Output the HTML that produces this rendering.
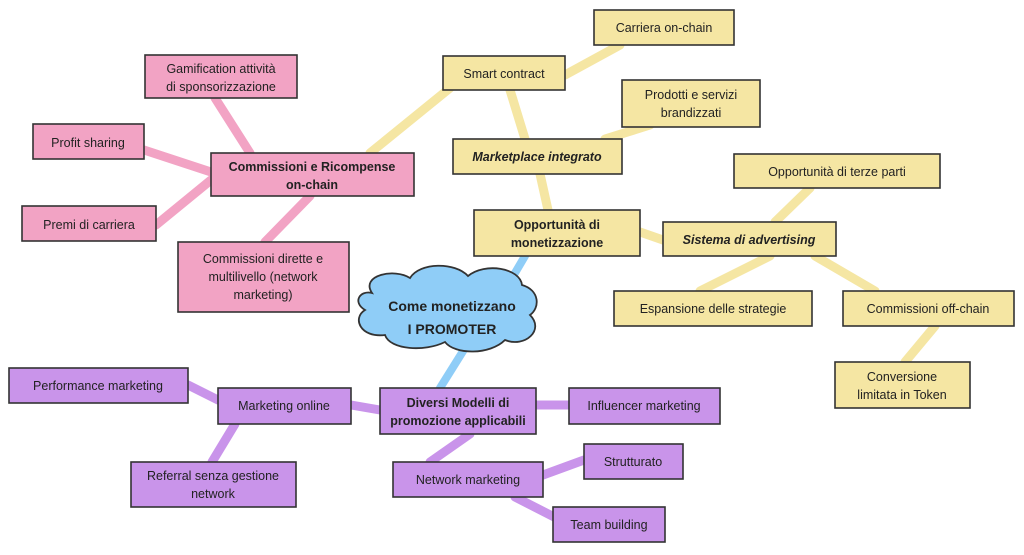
<!DOCTYPE html>
<html><head><meta charset="utf-8"><style>
html,body{margin:0;padding:0;background:#fff;width:1024px;height:555px;overflow:hidden}
text{font-family:"Comic Sans MS","Liberation Sans",sans-serif;font-size:12.5px;fill:#222;text-anchor:middle}
.b{font-weight:bold}.i{font-style:italic;font-weight:bold}
.p rect{fill:#f2a3c4}.y rect{fill:#f5e6a3}.v rect{fill:#c994ea}
rect{stroke:#333;stroke-width:1.6}
</style></head><body>
<svg width="1024" height="555" viewBox="0 0 1024 555" xmlns="http://www.w3.org/2000/svg">
<g stroke-linecap="round" fill="none">
<g stroke="#f2a3c4" stroke-width="9">
<line x1="215" y1="98" x2="250" y2="153"/>
<line x1="144" y1="150" x2="211" y2="172"/>
<line x1="156" y1="225" x2="211" y2="180"/>
<line x1="310" y1="196" x2="265" y2="242"/>
</g>
<g stroke="#f5e6a3" stroke-width="9">
<line x1="370" y1="153" x2="450" y2="88"/>
<line x1="565" y1="75" x2="620" y2="45"/>
<line x1="510" y1="90" x2="525" y2="139"/>
<line x1="605" y1="139" x2="650" y2="125"/>
<line x1="540" y1="174" x2="548" y2="210"/>
<line x1="640" y1="232" x2="663" y2="240"/>
<line x1="775" y1="222" x2="810" y2="188"/>
<line x1="770" y1="256" x2="700" y2="291"/>
<line x1="815" y1="256" x2="875" y2="291"/>
<line x1="935" y1="326" x2="905" y2="362"/>
</g>
<g stroke="#8fcdf7" stroke-width="8">
<line x1="525" y1="256" x2="505" y2="290"/>
<line x1="470" y1="340" x2="440" y2="388"/>
</g>
<g stroke="#c994ea" stroke-width="9">
<line x1="188" y1="385" x2="218" y2="400"/>
<line x1="351" y1="405" x2="380" y2="410"/>
<line x1="536" y1="405" x2="569" y2="405"/>
<line x1="235" y1="424" x2="212" y2="462"/>
<line x1="470" y1="434" x2="430" y2="462"/>
<line x1="543" y1="475" x2="584" y2="460"/>
<line x1="515" y1="497" x2="560" y2="520"/>
</g>
</g>
<path d="M372,293 C360,275 395,268 410,278 C420,262 455,262 468,276 C485,262 520,268 522,285 C540,290 540,308 530,315 C545,330 525,348 505,340 C490,355 455,355 445,342 C425,352 390,350 385,335 C360,338 352,318 365,310 C352,302 360,290 372,293 Z" fill="#8fcdf7" stroke="#333" stroke-width="1.8"/>
<text x="452" y="311" class="b" style="font-size:14px">Come monetizzano</text>
<text x="452" y="334" class="b" style="font-size:14px">I PROMOTER</text>

<g class="p">
<rect x="145" y="55" width="152" height="43"/><text x="221" y="73">Gamification attività</text><text x="221" y="91">di sponsorizzazione</text>
<rect x="33" y="124" width="111" height="35"/><text x="88" y="147">Profit sharing</text>
<rect x="22" y="206" width="134" height="35"/><text x="89" y="229">Premi di carriera</text>
<rect x="211" y="153" width="203" height="43"/><text x="312" y="171" class="b">Commissioni e Ricompense</text><text x="312" y="189" class="b">on-chain</text>
<rect x="178" y="242" width="171" height="70"/><text x="263" y="263">Commissioni dirette e</text><text x="263" y="281">multilivello (network</text><text x="263" y="299">marketing)</text>
</g>
<g class="y">
<rect x="443" y="56" width="122" height="34"/><text x="504" y="78">Smart contract</text>
<rect x="594" y="10" width="140" height="35"/><text x="664" y="32">Carriera on-chain</text>
<rect x="622" y="80" width="138" height="47"/><text x="691" y="99">Prodotti e servizi</text><text x="691" y="117">brandizzati</text>
<rect x="453" y="139" width="169" height="35"/><text x="537" y="161" class="i">Marketplace integrato</text>
<rect x="474" y="210" width="166" height="46"/><text x="557" y="229" class="b">Opportunità di</text><text x="557" y="247" class="b">monetizzazione</text>
<rect x="663" y="222" width="173" height="34"/><text x="749" y="244" class="i">Sistema di advertising</text>
<rect x="734" y="154" width="206" height="34"/><text x="837" y="176">Opportunità di terze parti</text>
<rect x="614" y="291" width="198" height="35"/><text x="713" y="313">Espansione delle strategie</text>
<rect x="843" y="291" width="171" height="35"/><text x="928" y="313">Commissioni off-chain</text>
<rect x="835" y="362" width="135" height="46"/><text x="902" y="381">Conversione</text><text x="902" y="399">limitata in Token</text>
</g>
<g class="v">
<rect x="9" y="368" width="179" height="35"/><text x="98" y="390">Performance marketing</text>
<rect x="218" y="388" width="133" height="36"/><text x="284" y="410">Marketing online</text>
<rect x="380" y="388" width="156" height="46"/><text x="458" y="407" class="b">Diversi Modelli di</text><text x="458" y="425" class="b">promozione applicabili</text>
<rect x="569" y="388" width="151" height="36"/><text x="644" y="410">Influencer marketing</text>
<rect x="131" y="462" width="165" height="45"/><text x="213" y="480">Referral senza gestione</text><text x="213" y="498">network</text>
<rect x="393" y="462" width="150" height="35"/><text x="468" y="484">Network marketing</text>
<rect x="584" y="444" width="99" height="35"/><text x="633" y="466">Strutturato</text>
<rect x="553" y="507" width="112" height="35"/><text x="609" y="529">Team building</text>
</g>
</svg>
</body></html>
